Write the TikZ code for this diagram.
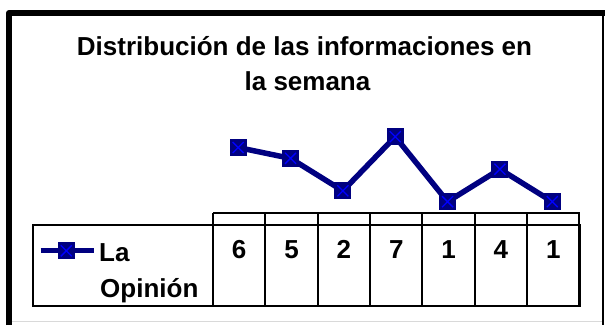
\documentclass[tikz,border=0pt]{standalone}
\usepackage{fontspec}
\setmainfont{Liberation Sans}
\definecolor{navy}{RGB}{0,0,128}
\definecolor{xblue}{RGB}{0,0,255}
\begin{document}
\begin{tikzpicture}[x=1pt,y=-1pt,
  serie/.style={draw=navy,line width=5.5pt,line join=miter},
  marker/.style={rectangle,fill=navy,minimum size=17pt,inner sep=0pt,
    path picture={\draw[xblue,line width=1.3pt]
      ([shift={(3pt,-3pt)}]path picture bounding box.north west) --
      ([shift={(-3pt,3pt)}]path picture bounding box.south east)
      ([shift={(-3pt,-3pt)}]path picture bounding box.north east) --
      ([shift={(3pt,3pt)}]path picture bounding box.south west);}},
  gridline/.style={line width=2pt},
  lbl/.style={font=\fontsize{26}{26}\selectfont\bfseries,inner sep=0pt,anchor=base},
  ttl/.style={font=\fontsize{26}{26}\selectfont\bfseries,inner sep=0pt,anchor=base}]
\useasboundingbox (0,0) rectangle (605,325);
% frame
\draw[line width=6pt,line join=round] (9,325) -- (9,13) -- (605,13);
\draw[line width=1.5pt] (603,16) -- (603,325);
\draw[black!15,line width=1pt] (12,321.5) -- (602,321.5);
% title
\node[ttl] (t1) at (304.5,55) {Distribución de las informaciones en};
\node[ttl] (t2) at (307.5,90) {la semana};
% table
\draw[gridline] (33,225) rectangle (579.5,306);
\draw[gridline] (213,213) -- (579.5,213);
\foreach \k in {0,...,7}{
  \draw[gridline] ({213+52.35*\k},213) -- ({213+52.35*\k},306);
}
% data
\foreach \v [count=\k from 0] in {6,5,2,7,1,4,1}{
  \coordinate (p\k) at ({213+52.35*(\k+0.5)-1},{212.5-10.83*\v});
  \node[lbl] (n\k) at ({213+52.35*(\k+0.5)},258) {\v};
}
\draw[serie] (p0) -- (p1) -- (p2) -- (p3) -- (p4) -- (p5) -- (p6);
\foreach \k in {0,...,6}{
  \node[marker] (m\k) at (p\k) {};
}
% legend
\coordinate (la) at (40.7,250.5);
\coordinate (lb) at (94,250.5);
\draw[serie] (la) -- (lb);
\node[marker] (lm) at (66.3,250.8) {};
\node[lbl,anchor=base west] (lt1) at (99,261) {La};
\node[lbl,anchor=base west] (lt2) at (100,297) {Opinión};
\end{tikzpicture}
\end{document}
